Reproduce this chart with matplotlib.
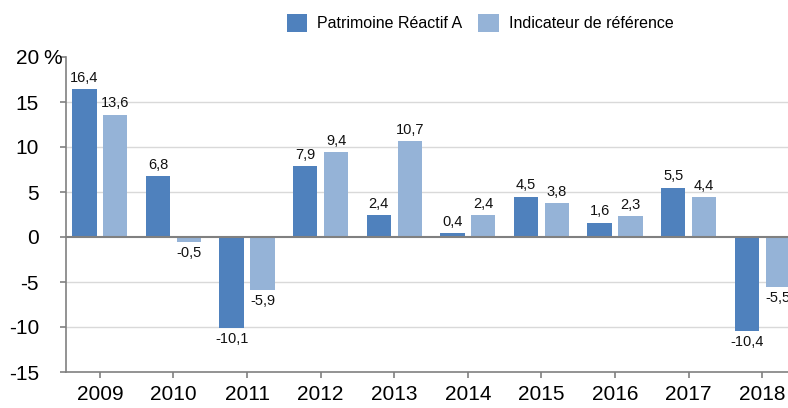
import numpy as np
import matplotlib.pyplot as plt
import matplotlib.transforms as mtransforms

plt.rcParams['font.family'] = ['Liberation Sans', 'DejaVu Sans']

years = ['2009', '2010', '2011', '2012', '2013', '2014', '2015', '2016', '2017', '2018']
fund = [16.4, 6.8, -10.1, 7.9, 2.4, 0.4, 4.5, 1.6, 5.5, -10.4]
bench = [13.6, -0.5, -5.9, 9.4, 10.7, 2.4, 3.8, 2.3, 4.4, -5.5]
yticks = [-15, -10, -5, 0, 5, 10, 15, 20]

dark = '#4F81BD'
light = '#95B3D7'

fig = plt.figure(figsize=(7.88, 4.08), dpi=100)
ax = fig.add_axes([66/788, 1 - 372/408, 1 - 66/788, (372 - 57)/408])

x = np.arange(len(years))
w = 0.33
off = 0.21
ax.bar(x - off, fund, w, color=dark, label='Patrimoine Réactif A', zorder=3)
ax.bar(x + off, bench, w, color=light, label='Indicateur de référence', zorder=3)

def fmt(v):
    return f'{v:.1f}'.replace('.', ',')

# value labels above / below each bar
for xs, vals in ((x - off, fund), (x + off, bench)):
    for xi, v in zip(xs, vals):
        if v >= 0:
            ax.annotate(fmt(v), (xi, v), xytext=(0, 3), textcoords='offset points',
                        ha='center', va='bottom', fontsize=10.5, color='#111111')
        else:
            ax.annotate(fmt(v), (xi, v), xytext=(0, -3), textcoords='offset points',
                        ha='center', va='top', fontsize=10.5, color='#111111')

ax.set_xlim(-0.46, 9.35)
ax.set_ylim(-15, 20)
ax.set_yticks(yticks)
ax.set_yticklabels([str(t) for t in yticks], fontsize=15)
ax.set_xticks(x)
ax.set_xticklabels(years, fontsize=15)

# unit sign next to the top tick label
trans = mtransforms.blended_transform_factory(fig.transFigure, ax.transData)
ax.text(43/788, 20, '%', transform=trans, fontsize=15, ha='left',
        va='center_baseline', clip_on=False)

for y in [-10, -5, 5, 10, 15]:
    ax.axhline(y, color='#D9D9D9', lw=1, zorder=1)
ax.axhline(0, color='#808080', lw=1.5, zorder=4)

for s in ['top', 'right']:
    ax.spines[s].set_visible(False)
for s in ['left', 'bottom']:
    ax.spines[s].set_color('#808080')
    ax.spines[s].set_linewidth(1.2)
ax.tick_params(axis='both', color='#808080', length=4.5, width=1.2)
ax.tick_params(axis='y', pad=15)
ax.tick_params(axis='x', pad=5)

fig.legend(loc='upper center', bbox_to_anchor=(480/788, 1.0), ncol=2, frameon=False,
           fontsize=11.5, handlelength=1.3, handleheight=1.3, columnspacing=1.0,
           handletextpad=0.6)

fig.savefig('out.png', dpi=100)
